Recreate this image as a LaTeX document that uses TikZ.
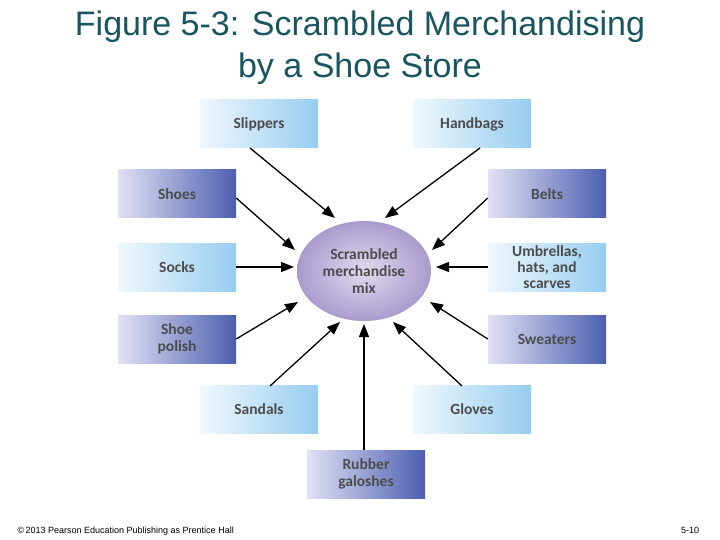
\documentclass[tikz,border=0pt]{standalone}
\usepackage{fontspec}
\setmainfont{Liberation Sans}
\newfontfamily\boxfont{Carlito}
\usetikzlibrary{arrows.meta,shapes.geometric}
\definecolor{titlec}{RGB}{25,85,95}
\definecolor{lightA}{RGB}{240,248,253}
\definecolor{lightB}{RGB}{150,205,240}
\definecolor{darkA}{RGB}{225,225,245}
\definecolor{darkB}{RGB}{75,95,175}
\definecolor{ellin}{RGB}{225,218,240}
\definecolor{ellout}{RGB}{170,155,205}
\tikzset{
 lbox/.style={minimum width=118pt,minimum height=48pt,left color=lightA,right color=lightB,font=\boxfont\bfseries\fontsize{15.5}{15.5}\selectfont,text=black!70,align=center,inner sep=0pt},
 dbox/.style={lbox,left color=darkA,right color=darkB},
 arr/.style={-{Triangle[length=13pt,width=10pt]},line width=1.3pt}
}
\begin{document}
\begin{tikzpicture}[x=1pt,y=-1pt]
\useasboundingbox (0,0) rectangle (720,540);
\fill[white] (0,0) rectangle (720,540);
\node[font=\fontsize{34}{42}\selectfont,text=titlec,align=center] (title) at (360,48) {Figure 5-3: Scrambled Merchandising\\by a Shoe Store};
\node[ellipse,minimum width=134pt,minimum height=100pt,inner sep=0pt,shading=radial,inner color=ellin,outer color=ellout,font=\boxfont\bfseries\fontsize{15.5}{17}\selectfont,text=black!70,align=center] (c) at (364,271) {Scrambled\\merchandise\\mix};
\node[lbox] (slip) at (259,124) {Slippers};
\node[lbox] (hand) at (472,124) {Handbags};
\node[dbox] (shoes) at (177,194) {Shoes};
\node[dbox] (belts) at (547,194) {Belts};
\node[lbox] (socks) at (177,267) {Socks};
\node[lbox,font=\boxfont\bfseries\fontsize{15.5}{16}\selectfont] (umb) at (547,267) {Umbrellas,\\hats, and\\scarves};
\node[dbox,font=\boxfont\bfseries\fontsize{15.5}{17}\selectfont] (pol) at (177,339) {Shoe\\polish};
\node[dbox] (sw) at (547,339) {Sweaters};
\node[lbox] (sand) at (259,409) {Sandals};
\node[lbox] (glo) at (472,409) {Gloves};
\node[dbox,font=\boxfont\bfseries\fontsize{15.5}{17}\selectfont] (gal) at (366,474) {Rubber\\galoshes};
\coordinate (s1) at (250,148); \coordinate (h1) at (480,148);
\coordinate (sa1) at (270,386); \coordinate (g1) at (462,386);
\draw[arr] (s1) -- (335,218);
\draw[arr] (h1) -- (385,218);
\draw[arr] (shoes.east) ++(0,4) -- (295,250);
\draw[arr] (belts.west) ++(0,4) -- (432,250);
\draw[arr] (socks.east) -- (294,267);
\draw[arr] (umb.west) -- (436,267);
\draw[arr] (pol.east) -- (298,302);
\draw[arr] (sw.west) -- (430,302);
\draw[arr] (sa1) -- (340,322);
\draw[arr] (g1) -- (393,322);
\draw[arr] (gal.north) ++(-2,0) -- (364,324);
\node[font=\fontsize{9}{10}\selectfont,anchor=west] (foot) at (14,531) {\textcopyright\,2013 Pearson Education Publishing as Prentice Hall};
\node[font=\fontsize{9}{10}\selectfont] (pg) at (690,530) {5-10};
\end{tikzpicture}
\end{document}
